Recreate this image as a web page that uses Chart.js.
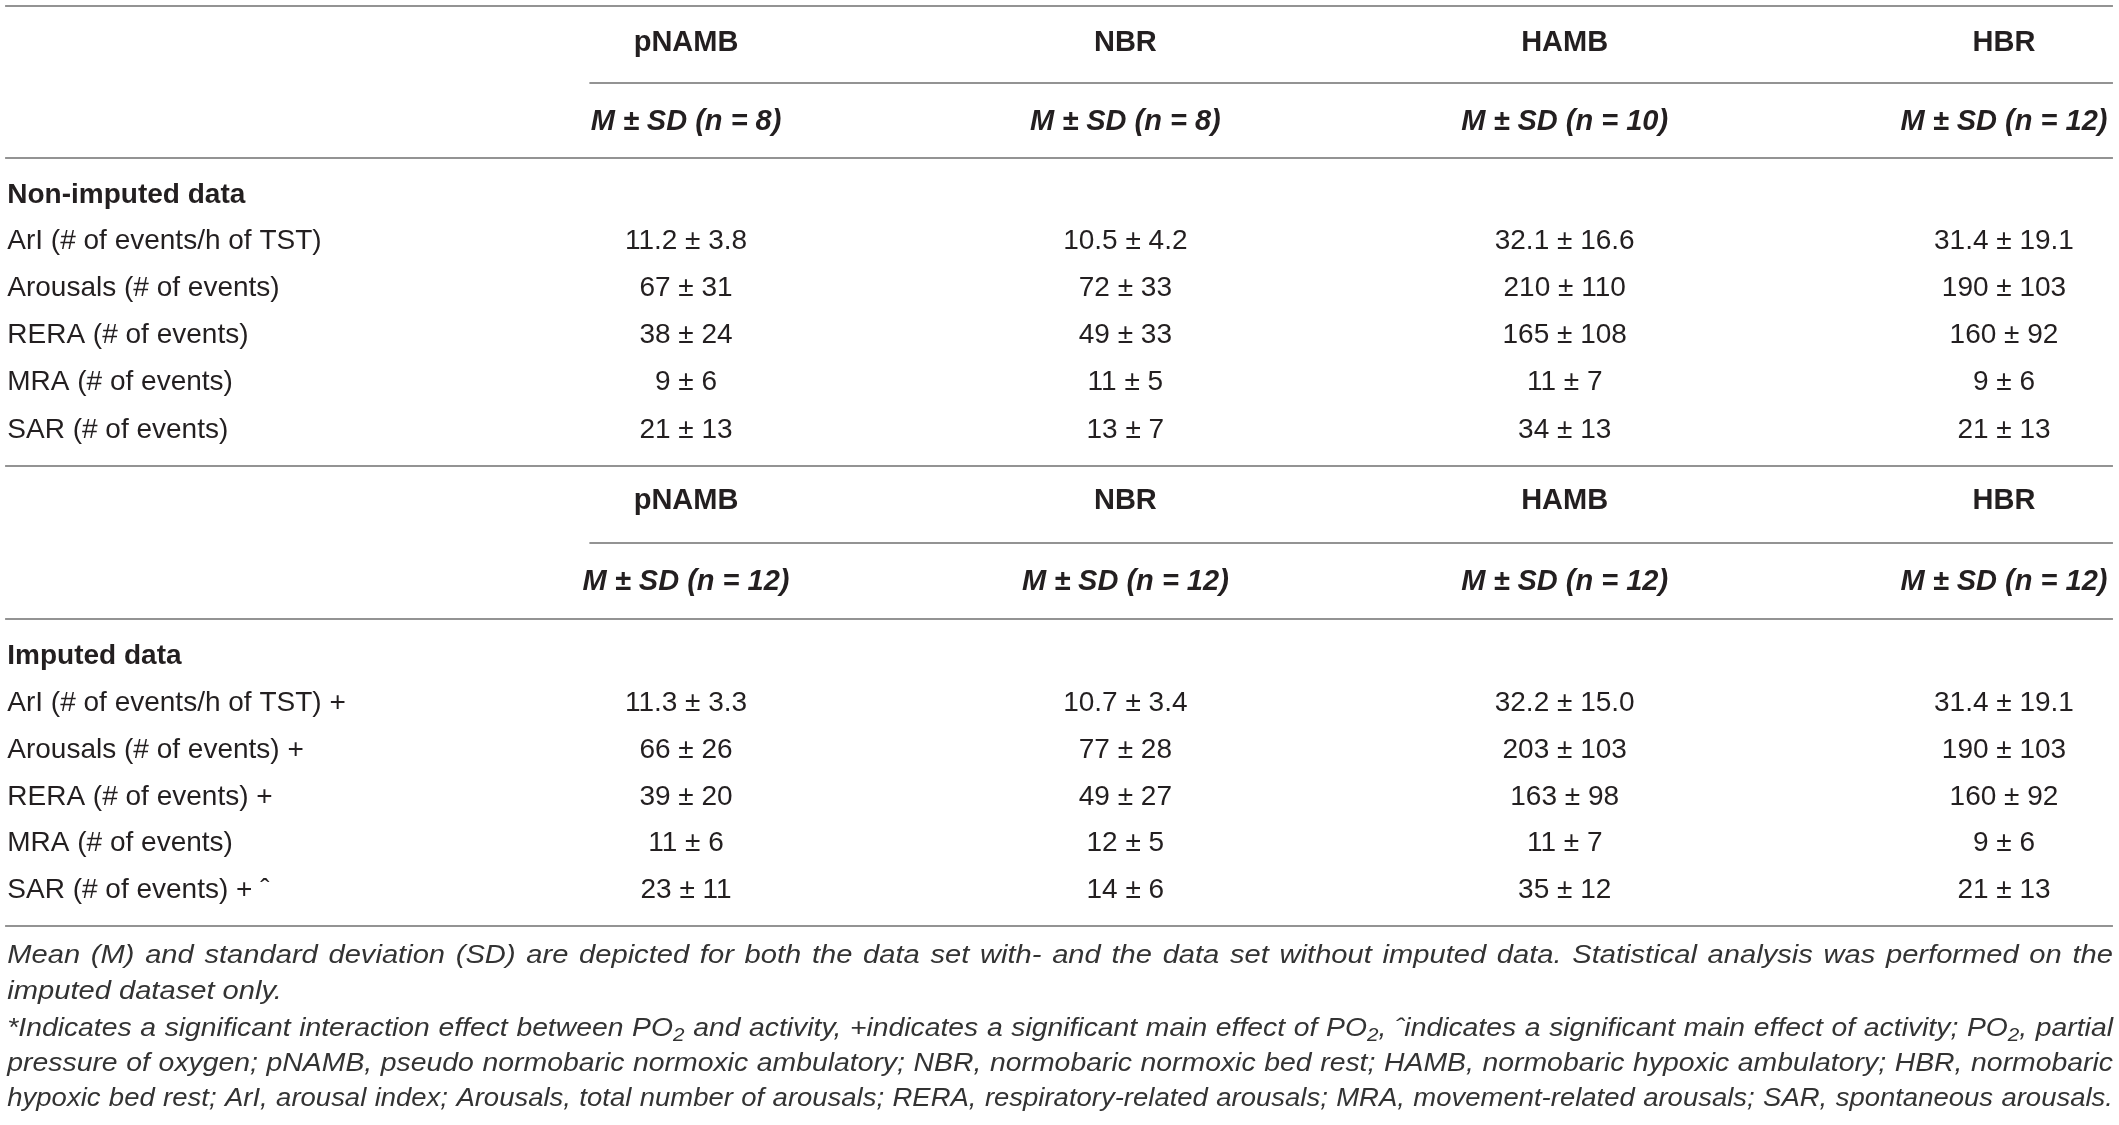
<!DOCTYPE html>
<html>
<head>
<meta charset="utf-8">
<script src="https://cdn.jsdelivr.net/npm/chart.js@4.4.1/dist/chart.umd.min.js"></script>
<style>
    html, body { margin: 0; padding: 0; background: #fff; }
    #wrap { position: relative; width: 2119px; height: 1125px; }
</style>
</head>
<body>
<div id="wrap"><canvas id="table-chart"></canvas></div>
<script>
// table content
const groups = ["pNAMB", "NBR", "HAMB", "HBR"];
const nNonImputed = [8, 8, 10, 12];
const nImputed = [12, 12, 12, 12];
const sections = ["Non-imputed data", "Imputed data"];
const measures = [
    "ArI (# of events/h of TST)",
    "Arousals (# of events)",
    "RERA (# of events)",
    "MRA (# of events)",
    "SAR (# of events)",
];
const imputedMarks = [" +", " +", " +", "", " + ˆ"];
const decimals = [1, 0, 0, 0, 0];

// non-imputed M and SD per group
const pnambNonMean = [11.2, 67, 38, 9, 21];
const pnambNonSd = [3.8, 31, 24, 6, 13];
const nbrNonMean = [10.5, 72, 49, 11, 13];
const nbrNonSd = [4.2, 33, 33, 5, 7];
const hambNonMean = [32.1, 210, 165, 11, 34];
const hambNonSd = [16.6, 110, 108, 7, 13];
const hbrNonMean = [31.4, 190, 160, 9, 21];
const hbrNonSd = [19.1, 103, 92, 6, 13];

// imputed M and SD per group
const pnambImpMean = [11.3, 66, 39, 11, 23];
const pnambImpSd = [3.3, 26, 20, 6, 11];
const nbrImpMean = [10.7, 77, 49, 12, 14];
const nbrImpSd = [3.4, 28, 27, 5, 6];
const hambImpMean = [32.2, 203, 163, 11, 35];
const hambImpSd = [15.0, 103, 98, 7, 12];
const hbrImpMean = [31.4, 190, 160, 9, 21];
const hbrImpSd = [19.1, 103, 92, 6, 13];

const notes = [
    "Mean (M) and standard deviation (SD) are depicted for both the data set with- and the data set without imputed data. Statistical analysis was performed on the",
    "imputed dataset only.",
    "*Indicates a significant interaction effect between PO₂ and activity, +indicates a significant main effect of PO₂, ˆindicates a significant main effect of activity; PO₂, partial",
    "pressure of oxygen; pNAMB, pseudo normobaric normoxic ambulatory; NBR, normobaric normoxic bed rest; HAMB, normobaric hypoxic ambulatory; HBR, normobaric",
    "hypoxic bed rest; ArI, arousal index; Arousals, total number of arousals; RERA, respiratory-related arousals; MRA, movement-related arousals; SAR, spontaneous arousals.",
];
const notesJustified = [true, false, true, true, true];

// layout (y in page pixels, x in column units)
const LABEL_COL = -0.545;
const RULE_START = -0.55;
const PARTIAL_START = 0.78;
const RULE_END = 4.248;
const blockRows = [
    { head: 43, nHead: 122, title: 195, rows: [241, 288, 335, 382, 430] },
    { head: 501, nHead: 582, title: 656, rows: [703, 750, 797, 843, 890] },
];
const fullRules = [6, 158, 466, 619, 926];
const partialRules = [83, 543];
const noteRows = [956, 992, 1029, 1064, 1099];

const INK = "#231f20";
const FONT = "'Liberation Sans', Arial, sans-serif";

const fmt = (m, s, d) => m.toFixed(d) + " ± " + s.toFixed(d);

const nonMeans = [pnambNonMean, nbrNonMean, hambNonMean, hbrNonMean];
const nonSds = [pnambNonSd, nbrNonSd, hambNonSd, hbrNonSd];
const impMeans = [pnambImpMean, nbrImpMean, hambImpMean, hbrImpMean];
const impSds = [pnambImpSd, nbrImpSd, hambImpSd, hbrImpSd];

function textSet(points, texts, font, align) {
    return {
        data: points,
        cellText: texts,
        cellFont: font,
        cellAlign: align,
        pointRadius: 0,
        showLine: false,
    };
}

const datasets = [];
blockRows.forEach((b, bi) => {
    const ns = bi === 0 ? nNonImputed : nImputed;
    const means = bi === 0 ? nonMeans : impMeans;
    const sds = bi === 0 ? nonSds : impSds;

    datasets.push(textSet(
        groups.map((g, i) => ({ x: i + 1, y: b.head })),
        groups,
        "bold 29px " + FONT, "center"));

    datasets.push(textSet(
        groups.map((g, i) => ({ x: i + 1, y: b.nHead })),
        ns.map(n => "M ± SD (n = " + n + ")"),
        "italic bold 29px " + FONT, "center"));

    datasets.push(textSet(
        [{ x: LABEL_COL, y: b.title }],
        [sections[bi]],
        "bold 28px " + FONT, "left"));

    datasets.push(textSet(
        measures.map((m, r) => ({ x: LABEL_COL, y: b.rows[r] })),
        measures.map((m, r) => bi === 0 ? m : m + imputedMarks[r]),
        "28px " + FONT, "left"));

    const pts = [], txt = [];
    groups.forEach((g, gi) => {
        measures.forEach((m, r) => {
            pts.push({ x: gi + 1, y: b.rows[r] });
            txt.push(fmt(means[gi][r], sds[gi][r], decimals[r]));
        });
    });
    datasets.push(textSet(pts, txt, "28px " + FONT, "center"));
});

// split a word into runs, turning ₂ into a subscript 2
function runsOf(word) {
    const runs = [];
    let cur = "";
    for (const ch of word) {
        if (ch === "₂") {
            if (cur) runs.push({ t: cur, sub: false });
            runs.push({ t: "2", sub: true });
            cur = "";
        } else {
            cur += ch;
        }
    }
    if (cur) runs.push({ t: cur, sub: false });
    return runs;
}

const NOTE_SIZE = 26;
const noteFont = "italic " + NOTE_SIZE + "px " + FONT;
const subFont = "italic " + Math.round(NOTE_SIZE * 0.72) + "px " + FONT;

function wordWidth(ctx, runs) {
    let w = 0;
    runs.forEach(r => {
        ctx.font = r.sub ? subFont : noteFont;
        w += ctx.measureText(r.t).width;
    });
    return w;
}

// justify a footnote line; glyphs are stretched a little so the gaps stay close to normal
function drawNote(ctx, text, left, right, y, justify, baseStretch) {
    const words = text.split(" ").map(runsOf);
    const widths = words.map(r => wordWidth(ctx, r));
    const total = widths.reduce((a, b) => a + b, 0);
    ctx.font = noteFont;
    const space = ctx.measureText(" ").width;
    const target = right - left;
    let stretch = baseStretch, gap = space;
    if (justify) {
        stretch = target / (total + space * 1.1 * (words.length - 1));
        stretch = Math.max(0.85, Math.min(1.12, stretch));
        gap = (target / stretch - total) / (words.length - 1);
    }
    ctx.save();
    ctx.translate(left, y);
    ctx.scale(stretch, 1);
    let x = 0;
    words.forEach(runs => {
        runs.forEach(r => {
            ctx.font = r.sub ? subFont : noteFont;
            ctx.fillText(r.t, x, r.sub ? 7 : 0);
            x += ctx.measureText(r.t).width;
        });
        x += gap;
    });
    ctx.restore();
    return stretch;
}

const tablePlugin = {
    id: "tableCells",
    afterDatasetsDraw(chart) {
        const ctx = chart.ctx;
        const xs = chart.scales.x, ys = chart.scales.y;
        ctx.save();

        // rules
        ctx.strokeStyle = "#939393";
        ctx.lineWidth = 2;
        const rule = (x0, y) => {
            const py = Math.round(ys.getPixelForValue(y));
            ctx.beginPath();
            ctx.moveTo(xs.getPixelForValue(x0), py);
            ctx.lineTo(xs.getPixelForValue(RULE_END), py);
            ctx.stroke();
        };
        fullRules.forEach(y => rule(RULE_START, y));
        partialRules.forEach(y => rule(PARTIAL_START, y));

        // cells
        ctx.fillStyle = INK;
        ctx.textBaseline = "middle";
        chart.data.datasets.forEach((ds, i) => {
            const meta = chart.getDatasetMeta(i);
            ctx.font = ds.cellFont;
            ctx.textAlign = ds.cellAlign;
            meta.data.forEach((el, j) => {
                ctx.fillText(ds.cellText[j], el.x, el.y);
            });
        });

        // footnote
        ctx.fillStyle = "#333";
        ctx.textAlign = "left";
        const left = xs.getPixelForValue(LABEL_COL);
        const right = xs.getPixelForValue(RULE_END);
        let lastStretch = 1.08;
        notes.forEach((t, k) => {
            lastStretch = drawNote(ctx, t, left, right, ys.getPixelForValue(noteRows[k]),
                notesJustified[k], lastStretch);
        });
        ctx.restore();
    },
};

const ctx = document.getElementById("table-chart");

let table = new Chart(ctx, {
    type: "scatter",
    data: { datasets: datasets },
    options: {
        responsive: true,
        maintainAspectRatio: false,
        animation: false,
        layout: { padding: 0 },
        scales: {
            x: { type: "linear", display: false, min: -0.5616, max: 4.2618 },
            y: { type: "linear", display: false, reverse: true, min: 0, max: 1125 },
        },
        plugins: {
            legend: { display: false },
            tooltip: { enabled: false },
        },
    },
    plugins: [tablePlugin],
});
</script>
</body>
</html>
